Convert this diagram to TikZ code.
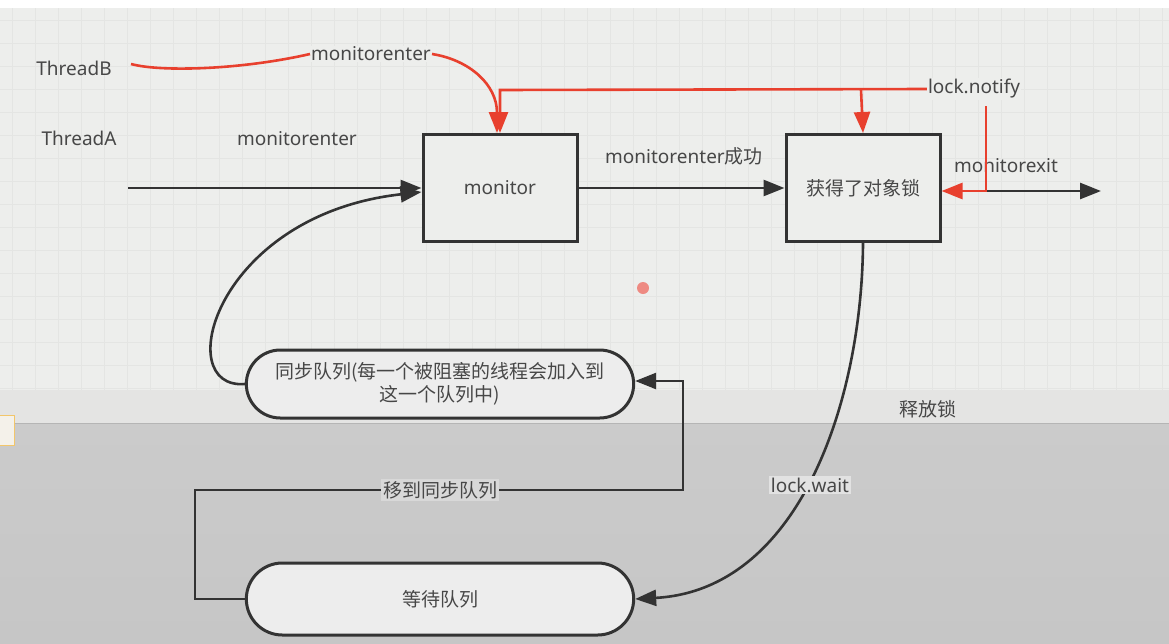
\documentclass[tikz,border=0pt]{standalone}
\usepackage{fontspec}
\setmainfont{Noto Sans CJK SC}
\newfontfamily\lat{Noto Sans}
\usetikzlibrary{arrows.meta,calc,shapes.misc}
\definecolor{txt}{HTML}{474747}
\definecolor{ln}{HTML}{333333}
\definecolor{rd}{HTML}{E8402E}
\definecolor{bgtop}{HTML}{EDEEEC}
\definecolor{bgband}{HTML}{E4E4E3}
\definecolor{bglow}{HTML}{CBCBCB}
\definecolor{bglow2}{HTML}{C6C6C6}
\definecolor{sepline}{HTML}{B5B5B5}
\definecolor{orfill}{HTML}{F4F1EA}
\definecolor{ordraw}{HTML}{F2C66B}
\definecolor{gridc}{HTML}{E4E5E3}
\definecolor{boxfill}{HTML}{EDEDED}
\definecolor{lwfill}{HTML}{E2E2E2}
\definecolor{mvfill}{HTML}{D8D8D8}
\definecolor{dotc}{HTML}{EE8A82}
\begin{document}
\begin{tikzpicture}[x=1pt,y=-1pt,
  font=\fontsize{19}{23}\selectfont,
  every node/.style={text=txt},
  lbl/.style={inner sep=1pt},
  lblbg/.style={inner sep=1pt, fill=bgtop},
  sqbox/.style={draw=ln, line width=3pt, fill=bgtop, minimum width=154pt, minimum height=107pt},
  qbox/.style={rounded rectangle, draw=ln, line width=3pt, fill=boxfill, minimum width=394pt, minimum height=68pt, align=center},
  arr/.style={draw=ln, line width=2.6pt, -{Triangle[length=21pt,width=16pt]}},
  rarr/.style={draw=rd, line width=2.6pt, -{Triangle[length=21pt,width=16pt]}},
  rline/.style={draw=rd, line width=2.6pt}
]
\useasboundingbox (0,0) rectangle (1169,643);
% background
\fill[white] (0,0) rectangle (1169,8);
\fill[bgtop] (0,8) rectangle (1169,390);
\foreach \gx in {12,35,...,1169} \draw[gridc, line width=0.6pt] (\gx,8) -- (\gx,390);
\foreach \gy in {20,43,...,390} \draw[gridc, line width=0.6pt] (0,\gy) -- (1169,\gy);
\fill[bgband] (0,390) rectangle (1169,423);
\shade[top color=bglow, bottom color=bglow2] (0,423) rectangle (1169,643);
\draw[sepline, line width=1.5pt] (0,423.5) -- (1169,423.5);
\fill[orfill] (0,415) rectangle (14,445);
\draw[ordraw, line width=1pt] (0,415) -- (14,415) -- (14,445) -- (0,445);
% cursor dot
\fill[dotc] (643,288) circle (6pt);

% nodes
\node[lbl] (thB) at (74,68) {\lat ThreadB};
\node[lbl] (thA) at (79,138) {\lat ThreadA};
\node[lbl] (menA) at (297,139) {\lat monitorenter};
\node[sqbox] (mon) at (500,188) {\lat monitor};
\node[sqbox] (lock) at (863,188) {获得了对象锁};
\node[qbox] (sync) at (440,384) {同步队列(每一个被阻塞的线程会加入到\\这一个队列中)};
\node[qbox, minimum height=72pt] (wait) at (440,599) {等待队列};
\node[lbl] (succ) at (684,156) {{\lat monitorenter}成功};
\node[lbl] (mexit) at (1006,166) {\lat monitorexit};
\node[lbl] (rel) at (928,409) {释放锁};

% ThreadA path
\coordinate (aStart) at (128,188);
\draw[arr] (aStart) -- (mon.west);
\draw[arr] (mon.east) -- (lock.west);

% ThreadB red path
\node[lblbg] (menB) at (371,54) {\lat monitorenter};
\coordinate (bStart) at (131,64);
\draw[rline] (bStart) .. controls (160,72) and (240,70) .. (menB.west);
\draw[rarr] (menB.east) .. controls (470,60) and (497,85) .. ($(mon.north)+(-3,0)$);

% lock.notify red path
\node[lblbg] (notify) at (974,89) {\lat lock.notify};
\coordinate (n1) at (500,90);
\coordinate (n2) at (861,90);
\draw[rarr] (notify.west) -- (n1) -- (mon.north);
\draw[rarr] (n2) -- (lock.north);

% monitorexit
\coordinate (xcorner) at (986,191);
\coordinate (xend) at (1101,191);
\draw[arr] (xcorner) -- (xend);
\coordinate (rtop) at (986,106);
\draw[rarr] (rtop) -- (xcorner) -- ($(lock.east)+(0,3)$);

% sync -> monitor curve
\draw[arr] (sync.west) .. controls (170,390) and (215,215) .. ($(mon.west)+(0,4)$);

% lock.wait curve
\draw[arr] (lock.south) .. controls (862,400) and (800,590) .. (wait.east);
\node[inner sep=2pt, fill=lwfill] (lw) at (810,485) {\lat lock.wait};

% move to sync queue
\coordinate (m1) at (195,599);
\coordinate (m2) at (195,490);
\coordinate (m3) at (683,490);
\coordinate (m4) at (683,381);
\draw[arr] (wait.west) -- (m1) -- (m2) -- (m3) -- (m4) -- (sync.east |- m4);
\node[inner sep=2pt, fill=mvfill] (mv) at (440,490) {移到同步队列};
\end{tikzpicture}
\end{document}
